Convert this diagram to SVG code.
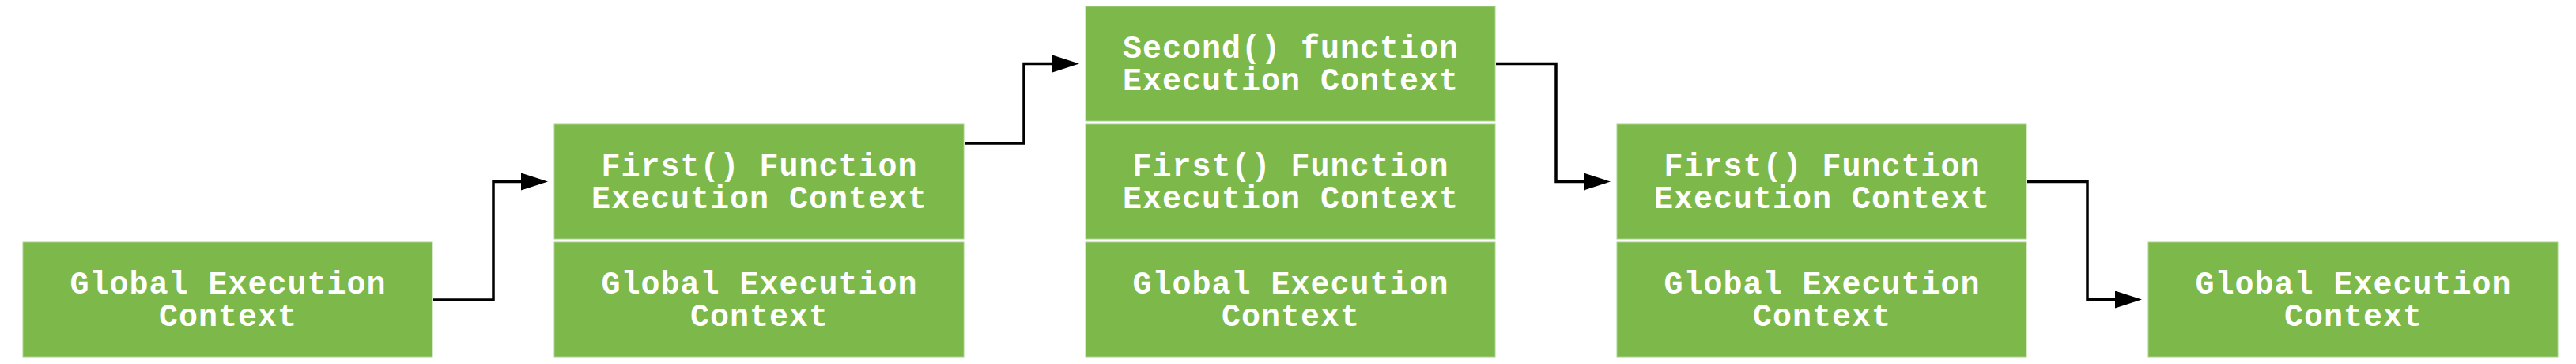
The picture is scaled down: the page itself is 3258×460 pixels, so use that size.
<svg xmlns="http://www.w3.org/2000/svg" width="3258" height="460" viewBox="0 0 3258 460">
<style>
.cell{fill:#7db84a;stroke:#a9d38c;stroke-width:1}
.lbl{font-family:"Liberation Mono","DejaVu Sans Mono",monospace;font-weight:bold;font-size:40px;letter-spacing:1px;fill:#ffffff;text-anchor:middle}
.conn{fill:none;stroke:#000000;stroke-width:3.5;stroke-linejoin:miter}
</style>
<defs>
<marker id="arr" markerUnits="userSpaceOnUse" markerWidth="34" markerHeight="22" refX="24" refY="11" orient="auto">
<path d="M0,0 L34,11 L0,22 Z" fill="#000000"/>
</marker>
</defs>
<rect width="3258" height="460" fill="#ffffff"/>
<g id="stage1">
<g id="s1-global">
<rect class="cell" x="29" y="306" width="518" height="145"/>
<text class="lbl" x="288.5" y="370.5">Global Execution</text>
<text class="lbl" x="288.5" y="411.5">Context</text>
</g>
</g>
<g id="stage2">
<g id="s2-first">
<rect class="cell" x="701" y="157" width="518" height="145"/>
<text class="lbl" x="960.5" y="221.5">First() Function</text>
<text class="lbl" x="960.5" y="262.5">Execution Context</text>
</g>
<g id="s2-global">
<rect class="cell" x="701" y="306" width="518" height="145"/>
<text class="lbl" x="960.5" y="370.5">Global Execution</text>
<text class="lbl" x="960.5" y="411.5">Context</text>
</g>
</g>
<g id="stage3">
<g id="s3-second">
<rect class="cell" x="1373" y="8" width="518" height="145"/>
<text class="lbl" x="1632.5" y="72.5">Second() function</text>
<text class="lbl" x="1632.5" y="113.5">Execution Context</text>
</g>
<g id="s3-first">
<rect class="cell" x="1373" y="157" width="518" height="145"/>
<text class="lbl" x="1632.5" y="221.5">First() Function</text>
<text class="lbl" x="1632.5" y="262.5">Execution Context</text>
</g>
<g id="s3-global">
<rect class="cell" x="1373" y="306" width="518" height="145"/>
<text class="lbl" x="1632.5" y="370.5">Global Execution</text>
<text class="lbl" x="1632.5" y="411.5">Context</text>
</g>
</g>
<g id="stage4">
<g id="s4-first">
<rect class="cell" x="2045" y="157" width="518" height="145"/>
<text class="lbl" x="2304.5" y="221.5">First() Function</text>
<text class="lbl" x="2304.5" y="262.5">Execution Context</text>
</g>
<g id="s4-global">
<rect class="cell" x="2045" y="306" width="518" height="145"/>
<text class="lbl" x="2304.5" y="370.5">Global Execution</text>
<text class="lbl" x="2304.5" y="411.5">Context</text>
</g>
</g>
<g id="stage5">
<g id="s5-global">
<rect class="cell" x="2717" y="306" width="518" height="145"/>
<text class="lbl" x="2976.5" y="370.5">Global Execution</text>
<text class="lbl" x="2976.5" y="411.5">Context</text>
</g>
</g>
<g id="connectors">
<path class="conn" d="M548 379 H624 V229.5 H683" marker-end="url(#arr)"/>
<path class="conn" d="M1220 181 H1295 V80.5 H1355" marker-end="url(#arr)"/>
<path class="conn" d="M1892 80.5 H1968 V229.5 H2027" marker-end="url(#arr)"/>
<path class="conn" d="M2564 229.5 H2640 V378.5 H2699" marker-end="url(#arr)"/>
</g>
</svg>
